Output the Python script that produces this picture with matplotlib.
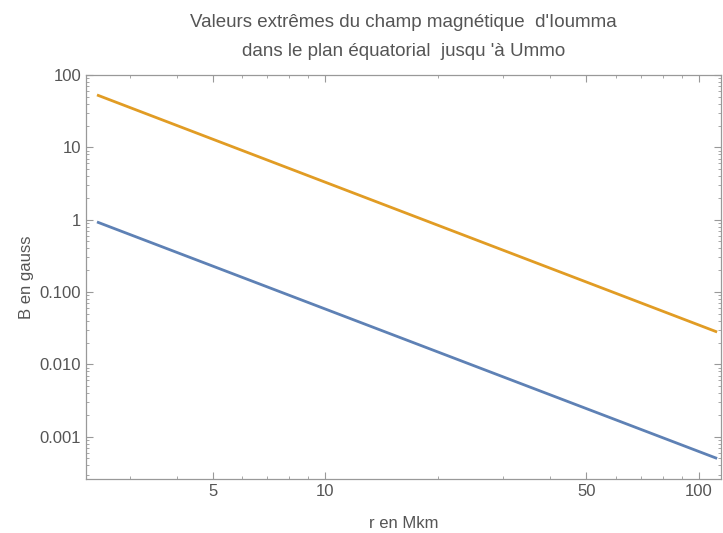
import matplotlib
matplotlib.use('Agg')
import matplotlib.pyplot as plt
from matplotlib.ticker import FixedLocator, FixedFormatter, LogLocator, NullFormatter
import numpy as np

# r en Mkm (line end points)
r_vals = [2.45, 112.0]
b_max = [53.0, 0.028]    # orange
b_min = [0.93, 0.0005]   # blue

x_ticks = [5, 10, 50, 100]
x_labels = ['5', '10', '50', '100']
y_ticks = [0.001, 0.01, 0.1, 1, 10, 100]
y_labels = ['0.001', '0.010', '0.100', '1', '10', '100']

plt.rcParams['font.family'] = ['Liberation Sans', 'DejaVu Sans']
grey = '#555555'
frame = '#999999'

fig = plt.figure(figsize=(7.23, 5.33), dpi=100)
ax = fig.add_axes([0.119, 0.1013, 0.878, 0.758])

ax.loglog(r_vals, b_max, color='#E19C24', linewidth=2.0, solid_capstyle='butt')
ax.loglog(r_vals, b_min, color='#5E81B5', linewidth=2.0, solid_capstyle='butt')

ax.set_xlim(2.29, 114.6)
ax.set_ylim(0.00026, 100)

ax.xaxis.set_major_locator(FixedLocator(x_ticks))
ax.xaxis.set_major_formatter(FixedFormatter(x_labels))
ax.xaxis.set_minor_locator(LogLocator(base=10, subs=np.arange(1, 10)))
ax.xaxis.set_minor_formatter(NullFormatter())
ax.yaxis.set_major_locator(FixedLocator(y_ticks))
ax.yaxis.set_major_formatter(FixedFormatter(y_labels))
ax.yaxis.set_minor_locator(LogLocator(base=10, subs=np.arange(2, 10)))
ax.yaxis.set_minor_formatter(NullFormatter())

ax.tick_params(which='both', direction='in', top=True, right=True, color=frame,
               labelcolor=grey, labelsize=12)
ax.tick_params(which='major', length=5, width=0.8)
ax.tick_params(which='minor', length=2.5, width=0.6)
for s in ax.spines.values():
    s.set_color(frame)
    s.set_linewidth(0.9)

ax.set_xlabel('r en Mkm', color=grey, fontsize=12, labelpad=12)
ax.set_ylabel('B en gauss', color=grey, fontsize=12, labelpad=4)
ax.set_title("Valeurs extrêmes du champ magnétique  d'Ioumma\n"
             "dans le plan équatorial  jusqu 'à Ummo",
             color=grey, fontsize=13.5, linespacing=1.85, pad=14)

fig.savefig('out.png', dpi=100)
